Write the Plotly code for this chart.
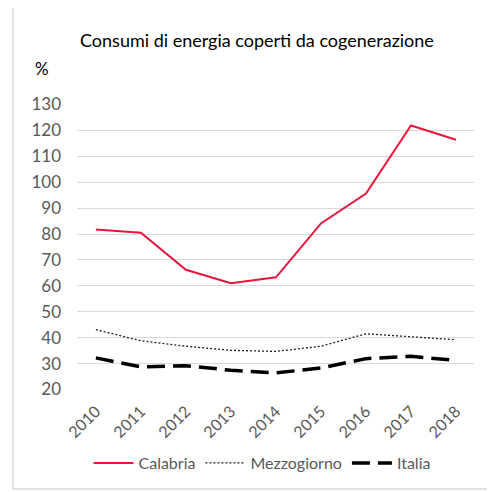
import plotly.graph_objects as go

years = ["2010", "2011", "2012", "2013", "2014", "2015", "2016", "2017", "2018"]
calabria = [81.8, 80.5, 66.2, 61.0, 63.3, 84.1, 95.6, 121.9, 116.4]
mezzogiorno = [43.1, 38.8, 36.7, 35.1, 34.7, 36.7, 41.5, 40.3, 39.2]
italia = [32.2, 28.7, 29.2, 27.4, 26.4, 28.3, 31.9, 32.8, 31.2]
y_ticks = [20, 30, 40, 50, 60, 70, 80, 90, 100, 110, 120, 130]

FONT = "Lato"
GRAY = "#595959"
xi = list(range(len(years)))

# page body has an 8px default margin; compensate so screen positions match
OFF = 8
W, H = 495 - OFF, 492 - OFF
L, R, T, B = 77 - OFF, 21, 104 - OFF, 102
PW = W - L - R
PH = H - T - B


def px_x(px):
    return (px - OFF - L) / PW


def px_y(py):
    return (H - B - (py - OFF)) / PH


fig = go.Figure()
fig.add_trace(go.Scatter(x=xi, y=calabria, name="Calabria", mode="lines",
                         line=dict(color="#E8163C", width=2)))
fig.add_trace(go.Scatter(x=xi, y=mezzogiorno, name="Mezzogiorno", mode="lines",
                         line=dict(color="#222222", width=1.3, dash="2px,2px")))
fig.add_trace(go.Scatter(x=xi, y=italia, name="Italia", mode="lines",
                         line=dict(color="#000000", width=3.5, dash="18px,8px")))

fig.update_layout(
    width=W, height=H,
    margin=dict(l=L, r=R, t=T, b=B, autoexpand=False),
    paper_bgcolor="white", plot_bgcolor="white",
    font=dict(family=FONT, color=GRAY, size=16),
    showlegend=True,
    legend=dict(orientation="h", x=px_x(262), xanchor="center", y=px_y(463), yanchor="middle",
                font=dict(family=FONT, size=16, color=GRAY), itemwidth=40,
                bgcolor="rgba(0,0,0,0)"),
    annotations=[
        dict(text="Consumi di energia coperti da cogenerazione", xref="paper", yref="paper",
             x=px_x(257), y=px_y(40), xanchor="center", yanchor="middle", showarrow=False,
             font=dict(family=FONT, size=18, color="#000000")),
        dict(text="%", xref="paper", yref="paper",
             x=px_x(42), y=px_y(68), xanchor="center", yanchor="middle",
             showarrow=False, font=dict(family=FONT, size=17, color="#000000")),
    ],
    shapes=[
        dict(type="rect", xref="paper", yref="paper",
             x0=px_x(13), x1=px_x(492),
             y0=px_y(489), y1=px_y(7),
             line=dict(color="#c8c8c8", width=1), fillcolor="rgba(0,0,0,0)", layer="below"),
    ],
)
fig.update_xaxes(tickvals=xi, ticktext=years, range=[-0.42, 8.4], tickangle=-45,
                 showgrid=False, zeroline=False, showline=False, ticks="",
                 ticklabelstandoff=8,
                 tickfont=dict(family=FONT, size=16, color=GRAY))
fig.update_yaxes(range=[19.8, 130.2], tickvals=y_ticks, showgrid=True,
                 gridcolor="#d9d9d9", gridwidth=1, zeroline=False, showline=False,
                 ticks="", ticklen=0, ticklabelstandoff=15,
                 tickfont=dict(family=FONT, size=17, color=GRAY))

fig.write_html("out.html")
